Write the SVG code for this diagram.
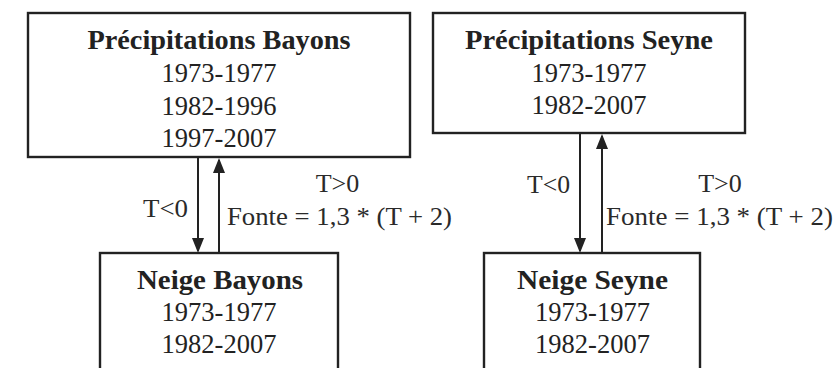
<svg xmlns="http://www.w3.org/2000/svg" width="837" height="368" viewBox="0 0 837 368">
<style>
  .box { fill: #ffffff; stroke: #222222; stroke-width: 2.4; }
  .t { font-family: "Liberation Serif", "Times New Roman", serif; font-size: 26.5px; fill: #222222; text-anchor: middle; }
  .b { font-weight: bold; font-size: 27px; }
  .lbl { font-family: "Liberation Serif", "Times New Roman", serif; font-size: 26px; fill: #2a2a2a; }
  .arr { stroke: #222222; stroke-width: 2; fill: none; }
</style>
<defs>
  <marker id="ah" markerUnits="userSpaceOnUse" markerWidth="15" markerHeight="12" viewBox="0 0 15 12" refX="13" refY="6" orient="auto">
    <path d="M0,0 L15,6 L0,12 z" fill="#222222"/>
  </marker>
</defs>
<rect width="837" height="368" fill="#ffffff"/>

<g id="precip-bayons">
  <rect class="box" x="28" y="13" width="382" height="144"/>
  <text class="t b" x="219" y="49" textLength="263" lengthAdjust="spacingAndGlyphs">Précipitations Bayons</text>
  <text class="t" x="219" y="82">1973-1977</text>
  <text class="t" x="219" y="115">1982-1996</text>
  <text class="t" x="219" y="147">1997-2007</text>
</g>

<g id="precip-seyne">
  <rect class="box" x="433" y="13" width="312" height="120"/>
  <text class="t b" x="589" y="49" textLength="248" lengthAdjust="spacingAndGlyphs">Précipitations Seyne</text>
  <text class="t" x="589" y="82">1973-1977</text>
  <text class="t" x="589" y="114">1982-2007</text>
</g>

<g id="neige-bayons">
  <rect class="box" x="100" y="253" width="238" height="130"/>
  <text class="t b" x="220" y="289" textLength="166" lengthAdjust="spacingAndGlyphs">Neige Bayons</text>
  <text class="t" x="219" y="321">1973-1977</text>
  <text class="t" x="219" y="353">1982-2007</text>
</g>

<g id="neige-seyne">
  <rect class="box" x="484" y="253" width="216" height="130"/>
  <text class="t b" x="592.5" y="289" textLength="151" lengthAdjust="spacingAndGlyphs">Neige Seyne</text>
  <text class="t" x="592.5" y="321">1973-1977</text>
  <text class="t" x="592.5" y="353">1982-2007</text>
</g>

<g id="connectors">
  <line class="arr" x1="198" y1="157" x2="198" y2="251" marker-end="url(#ah)"/>
  <line class="arr" x1="219" y1="253" x2="219" y2="160" marker-end="url(#ah)"/>
  <line class="arr" x1="580" y1="133" x2="580" y2="251" marker-end="url(#ah)"/>
  <line class="arr" x1="602" y1="253" x2="602" y2="136" marker-end="url(#ah)"/>
  <text class="lbl" x="143" y="217" textLength="45" lengthAdjust="spacingAndGlyphs">T&lt;0</text>
  <text class="lbl" x="337.5" y="192" text-anchor="middle">T&gt;0</text>
  <text class="lbl" x="227" y="225" textLength="225" lengthAdjust="spacingAndGlyphs">Fonte = 1,3 * (T + 2)</text>
  <text class="lbl" x="527" y="193" textLength="43" lengthAdjust="spacingAndGlyphs">T&lt;0</text>
  <text class="lbl" x="720" y="192" text-anchor="middle">T&gt;0</text>
  <text class="lbl" x="606" y="225" textLength="227" lengthAdjust="spacingAndGlyphs">Fonte = 1,3 * (T + 2)</text>
</g>
</svg>
